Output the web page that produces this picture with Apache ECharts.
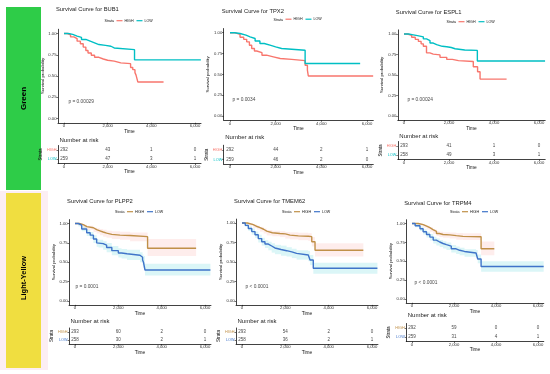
<!DOCTYPE html>
<html><head><meta charset="utf-8">
<script src="https://cdn.jsdelivr.net/npm/echarts@6/dist/echarts.min.js"></script>
<style>html,body{margin:0;padding:0;background:#fff}#c{width:550px;height:374px}</style>
</head><body><div id="c"></div>
<script>
// ---------------- DATA ----------------
const genes = ['BUB1','TPX2','ESPL1','PLPP2','TMEM62','TRPM4'];
const pTexts = ['p = 0.00029','p = 0.0034','p = 0.00024','p = 0.0001','p < 0.0001','p < 0.0001'];
const strata = ['HIGH','LOW'];
const xTicks = [0,2000,4000,6000];
const yTicks = [0,0.25,0.5,0.75,1];
const riskTimes = [0,2000,4000,6000];
const riskHigh = [[292,43,1,0],[292,44,2,1],[293,41,1,0],[293,60,2,0],[293,54,2,0],[292,59,0,0]];
const riskLow  = [[259,47,3,1],[259,46,2,0],[258,49,3,1],[258,30,2,1],[258,36,2,1],[259,31,4,1]];

const bub1HighT = [0,150,300,450,600,750,880,1000,1100,1250,1400,1600,1800,2000,2300,2600,3050,3150,3250,3300,3380,4560];
const bub1HighS = [1,0.985,0.96,0.94,0.91,0.88,0.84,0.80,0.77,0.745,0.72,0.70,0.685,0.675,0.655,0.645,0.60,0.575,0.54,0.51,0.43,0.43];
const bub1LowT  = [0,200,400,600,800,1000,1200,1400,1600,1900,2150,2300,3230,6270];
const bub1LowS  = [1,0.99,0.97,0.955,0.93,0.91,0.89,0.87,0.86,0.85,0.83,0.81,0.69,0.69];

const tpx2HighT = [0,200,440,600,730,850,950,1070,1170,1400,1600,1900,2200,2700,3290,3390,3430,6270];
const tpx2HighS = [1,0.98,0.945,0.92,0.89,0.85,0.81,0.78,0.76,0.73,0.71,0.69,0.68,0.665,0.61,0.55,0.48,0.48];
const tpx2LowT  = [0,200,440,700,880,1100,1310,1500,1750,2000,2260,3290,5700];
const tpx2LowS  = [1,0.99,0.97,0.95,0.93,0.90,0.87,0.85,0.83,0.81,0.79,0.63,0.63];

const espl1HighT = [0,150,340,500,640,760,860,1000,1150,1300,1600,1900,2150,2420,3080,3270,3380,4560];
const espl1HighS = [1,0.985,0.96,0.935,0.91,0.88,0.85,0.77,0.755,0.745,0.715,0.69,0.675,0.665,0.60,0.54,0.45,0.45];
const espl1LowT  = [0,200,415,600,860,1000,1155,1300,1450,1700,1900,2100,2270,2700,3260,6270];
const espl1LowS  = [1,0.99,0.98,0.965,0.94,0.92,0.89,0.87,0.85,0.845,0.835,0.82,0.805,0.80,0.67,0.67];

const plpp2HighT  = [0,200,380,550,850,1000,1150,1300,1460,1700,2080,2540,3350,5590];
const plpp2HighS  = [1,0.985,0.96,0.945,0.92,0.905,0.89,0.875,0.86,0.85,0.845,0.83,0.68,0.68];
const plpp2HighLo = [1,0.97,0.94,0.92,0.89,0.87,0.85,0.83,0.815,0.80,0.79,0.77,0.58,0.58];
const plpp2HighHi = [1,1,0.985,0.97,0.95,0.94,0.93,0.92,0.905,0.90,0.895,0.885,0.80,0.80];
const plpp2LowT   = [0,150,310,540,700,850,1000,1080,1300,1460,1700,2000,2150,2400,3000,3120,3160,3230,6250];
const plpp2LowS   = [1,0.98,0.93,0.88,0.85,0.80,0.75,0.74,0.72,0.69,0.65,0.62,0.61,0.59,0.565,0.53,0.50,0.40,0.40];
const plpp2LowLo  = [1,0.96,0.90,0.84,0.80,0.75,0.70,0.69,0.66,0.63,0.59,0.56,0.55,0.53,0.50,0.46,0.43,0.33,0.33];
const plpp2LowHi  = [1,1,0.96,0.92,0.89,0.85,0.80,0.79,0.77,0.75,0.71,0.68,0.67,0.66,0.63,0.60,0.58,0.48,0.48];

const tmem62HighT  = [0,250,520,700,830,1000,1140,1400,1750,2000,2220,2600,3060,3220,3370,5600];
const tmem62HighS  = [1,0.98,0.955,0.94,0.92,0.895,0.875,0.865,0.86,0.845,0.835,0.83,0.825,0.76,0.65,0.65];
const tmem62HighLo = [1,0.965,0.935,0.915,0.89,0.865,0.84,0.83,0.82,0.80,0.79,0.78,0.77,0.70,0.57,0.57];
const tmem62HighHi = [1,1,0.98,0.965,0.95,0.93,0.91,0.90,0.895,0.885,0.88,0.875,0.87,0.82,0.74,0.74];
const tmem62LowT   = [0,150,290,450,600,750,910,1060,1215,1370,1520,1800,2060,2300,2520,3060,3140,3290,6250];
const tmem62LowS   = [1,0.97,0.93,0.89,0.85,0.80,0.76,0.73,0.705,0.68,0.66,0.645,0.63,0.61,0.59,0.577,0.525,0.42,0.42];
const tmem62LowLo  = [1,0.95,0.90,0.85,0.81,0.75,0.71,0.68,0.65,0.62,0.60,0.58,0.57,0.55,0.53,0.51,0.46,0.35,0.35];
const tmem62LowHi  = [1,0.99,0.96,0.93,0.89,0.85,0.81,0.78,0.76,0.74,0.72,0.71,0.69,0.67,0.65,0.64,0.59,0.49,0.49];

const trpm4HighT  = [0,300,535,700,850,1000,1165,1300,1480,1800,2110,2425,3290,3920];
const trpm4HighS  = [1,0.985,0.965,0.945,0.92,0.895,0.867,0.855,0.85,0.84,0.83,0.825,0.665,0.665];
const trpm4HighLo = [1,0.97,0.945,0.92,0.89,0.865,0.835,0.82,0.81,0.80,0.785,0.78,0.58,0.58];
const trpm4HighHi = [1,1,0.985,0.97,0.95,0.925,0.90,0.89,0.885,0.88,0.875,0.87,0.76,0.76];
const trpm4LowT   = [0,150,380,530,690,850,1010,1160,1320,1480,1640,1870,2100,2270,2500,3050,3130,3290,6270];
const trpm4LowS   = [1,0.97,0.93,0.89,0.855,0.82,0.78,0.755,0.735,0.72,0.70,0.665,0.645,0.63,0.61,0.60,0.53,0.43,0.43];
const trpm4LowLo  = [1,0.95,0.90,0.855,0.815,0.775,0.735,0.71,0.69,0.67,0.65,0.615,0.595,0.58,0.56,0.545,0.475,0.36,0.36];
const trpm4LowHi  = [1,0.99,0.96,0.925,0.89,0.86,0.825,0.80,0.78,0.765,0.75,0.715,0.695,0.68,0.66,0.65,0.59,0.50,0.50];

const curves = [
  {high:[bub1HighT,bub1HighS], low:[bub1LowT,bub1LowS]},
  {high:[tpx2HighT,tpx2HighS], low:[tpx2LowT,tpx2LowS]},
  {high:[espl1HighT,espl1HighS], low:[espl1LowT,espl1LowS]},
  {high:[plpp2HighT,plpp2HighS,plpp2HighLo,plpp2HighHi], low:[plpp2LowT,plpp2LowS,plpp2LowLo,plpp2LowHi]},
  {high:[tmem62HighT,tmem62HighS,tmem62HighLo,tmem62HighHi], low:[tmem62LowT,tmem62LowS,tmem62LowLo,tmem62LowHi]},
  {high:[trpm4HighT,trpm4HighS,trpm4HighLo,trpm4HighHi], low:[trpm4LowT,trpm4LowS,trpm4LowLo,trpm4LowHi]}
];

// ---------------- LAYOUT / STYLE ----------------
const FONT = '"Liberation Sans", Arial, Helvetica, sans-serif';
const layout = [
  {x0:64,  x6:195, y1:33.5,  y0:118.5, rH:150, rL:159,   titleY:10,  narY:141, legY:21,   pPos:[180,0.2]},
  {x0:230, x6:367, y1:32.7,  y0:116,   rH:150, rL:159.5, titleY:12,  narY:138, legY:19.5, pPos:[90,0.2]},
  {x0:404, x6:539, y1:34,    y0:116,   rH:146, rL:155,   titleY:13,  narY:137, legY:22,   pPos:[130,0.2]},
  {x0:75,  x6:205, y1:223.5, y0:301,   rH:332, rL:340,   titleY:202, narY:322, legY:212,  pPos:[0,0.19]},
  {x0:242, x6:372, y1:223,   y0:301,   rH:332, rL:340,   titleY:202, narY:322, legY:212,  pPos:[140,0.18]},
  {x0:412, x6:538, y1:223.5, y0:299,   rH:328, rL:337,   titleY:204, narY:316, legY:212,  pPos:[100,0.21]}
];
const rowColors = [
  {HIGH:'#F8766D', LOW:'#00BFC4'},
  {HIGH:'#C09048', LOW:'#3F74C9'}
];
const bandColors = {HIGH:'rgba(248,118,109,0.13)', LOW:'rgba(0,191,196,0.14)'};
const XMIN=-275, XMAX=6275, YMIN=-0.05, YMAX=1.05;
const AX = '#111';

const grids=[], xAxes=[], yAxes=[], series=[], titles=[], legends=[], graphics=[];

function bandRender(color){
  return function(params, api){
    const a = api.coord([api.value(0), api.value(3)]);
    const b = api.coord([api.value(1), api.value(2)]);
    return {type:'rect', shape:{x:a[0], y:a[1], width:b[0]-a[0], height:b[1]-a[1]},
      style:{fill:color}};
  };
}

layout.forEach((p,i)=>{
  const row = i<3?0:1;
  const col = rowColors[row];
  const sc=(p.x6-p.x0)/6000;
  const left=p.x0+XMIN*sc, width=(XMAX-XMIN)*sc;
  const ys=p.y0-p.y1;
  const top=p.y1-(YMAX-1)*ys, height=(YMAX-YMIN)*ys;
  const gi=grids.length;
  grids.push({left:left, top:top, width:width, height:height});
  const band=p.rL-p.rH;
  grids.push({left:left, top:p.rH-band/2, width:width, height:band*2});

  const axisLineS = {show:true, onZero:false, lineStyle:{color:AX,width:0.8}};
  const tickS = {show:true, length:1.6, lineStyle:{color:AX,width:0.6}};
  const lblS = {fontSize:4.2, color:'#333', fontFamily:FONT};

  xAxes.push({gridIndex:gi, type:'value', min:XMIN, max:XMAX,
    name:'Time', nameLocation:'middle', nameGap:5.8,
    nameTextStyle:{fontSize:4.8,color:AX,fontFamily:FONT},
    axisLine:axisLineS, axisTick:Object.assign({customValues:xTicks},tickS),
    axisLabel:Object.assign({customValues:xTicks, margin:1.2},lblS), splitLine:{show:false}});
  yAxes.push({gridIndex:gi, type:'value', min:YMIN, max:YMAX,
    name:'Survival probability', nameLocation:'middle', nameGap:11, nameRotate:90,
    nameTextStyle:{fontSize:4.3,color:AX,fontFamily:FONT},
    axisLine:axisLineS, axisTick:Object.assign({customValues:yTicks},tickS),
    axisLabel:Object.assign({customValues:yTicks, margin:1.5, formatter:v=>Number(v).toFixed(2)},lblS),
    splitLine:{show:false}});
  xAxes.push({gridIndex:gi+1, type:'value', min:XMIN, max:XMAX,
    name:'Time', nameLocation:'middle', nameGap:5,
    nameTextStyle:{fontSize:4.8,color:AX,fontFamily:FONT},
    axisLine:axisLineS, axisTick:Object.assign({customValues:xTicks},tickS),
    axisLabel:Object.assign({customValues:xTicks, margin:1},lblS), splitLine:{show:false}});
  yAxes.push({gridIndex:gi+1, type:'category', data:strata, inverse:true,
    name:'Strata', nameLocation:'middle', nameGap:12, nameRotate:90,
    nameTextStyle:{fontSize:4.5,color:AX,fontFamily:FONT},
    axisLine:{show:true,onZero:false,lineStyle:{color:AX,width:0.8}},
    axisTick:{show:true,alignWithLabel:true,length:1.5,lineStyle:{color:AX,width:0.6}},
    axisLabel:{margin:1.5, fontSize:3.8, fontFamily:FONT,
      formatter:v=>'{'+v+'|'+v+'}',
      rich:{HIGH:{color:col.HIGH,fontSize:3.8,fontFamily:FONT}, LOW:{color:col.LOW,fontSize:3.8,fontFamily:FONT}}},
    splitLine:{show:false}});

  // confidence bands (bottom row) as step rectangles
  ['HIGH','LOW'].forEach(k=>{
    const c = curves[i][k==='HIGH'?'high':'low'];
    if (c.length===4){
      const T=c[0], lo=c[2], hi=c[3];
      series.push({type:'custom', name:'band'+i+k, xAxisIndex:gi, yAxisIndex:gi, silent:true, z:1, clip:true,
        renderItem:bandRender(bandColors[k]), encode:{x:[0,1], y:[2,3]},
        data:T.slice(0,-1).map((t,j)=>[t, T[j+1], lo[j], hi[j]])});
    }
  });
  ['HIGH','LOW'].forEach(k=>{
    const c = curves[i][k==='HIGH'?'high':'low'];
    series.push({type:'line', name:k, xAxisIndex:gi, yAxisIndex:gi, step:'end', symbol:'none',
      silent:true, z:3, lineStyle:{color:col[k], width:1.4}, itemStyle:{color:col[k]},
      data:c[0].map((t,j)=>[t,c[1][j]])});
  });
  series.push({type:'scatter', name:'pval'+i, xAxisIndex:gi, yAxisIndex:gi, symbolSize:1, silent:true,
    itemStyle:{color:'rgba(0,0,0,0)'}, data:[p.pPos],
    label:{show:true, position:'right', distance:0, formatter:pTexts[i], fontSize:4.8, color:AX, fontFamily:FONT}});
  const rdata = riskTimes.map((t,j)=>[t,0,riskHigh[i][j]]).concat(riskTimes.map((t,j)=>[t,1,riskLow[i][j]]));
  series.push({type:'scatter', name:'risk'+i, xAxisIndex:gi+1, yAxisIndex:gi+1, symbolSize:1, silent:true,
    itemStyle:{color:'rgba(0,0,0,0)'}, data:rdata,
    label:{show:true, position:'inside', formatter:q=>String(q.value[2]), fontSize:4.5, color:AX, fontFamily:FONT}});

  titles.push({text:'Survival Curve for '+genes[i], left:left-2, top:p.titleY-3.2, padding:0,
    textStyle:{fontSize:5.8, fontWeight:'normal', color:'#222', fontFamily:FONT}});
  titles.push({text:'Number at risk', left:left+1.5, top:p.narY-3.4, padding:0,
    textStyle:{fontSize:6, fontWeight:'normal', color:'#222', fontFamily:FONT}});

  const cx = left+width/2;
  const start = cx-25;
  graphics.push({type:'text', x:start, y:p.legY, silent:true,
    style:{text:'Strata', fontSize:3.6, fill:AX, fontFamily:FONT, align:'left', verticalAlign:'middle'}});
  legends.push({left:start+12, top:p.legY-2.3, padding:0, itemGap:3, itemWidth:6, itemHeight:1.2,
    icon:'rect', selectedMode:false,
    textStyle:{fontSize:3.6, color:AX, fontFamily:FONT, padding:[0,0,0,-3]},
    data:[{name:'HIGH', itemStyle:{color:col.HIGH}}, {name:'LOW', itemStyle:{color:col.LOW}}]});
});

graphics.unshift(
  {type:'rect', shape:{x:0,y:191,width:48,height:179}, style:{fill:'#FCEEF3'}, silent:true},
  {type:'rect', shape:{x:6,y:7,width:35,height:183}, style:{fill:'#2ECC48'}, silent:true},
  {type:'rect', shape:{x:6,y:193,width:35,height:175}, style:{fill:'#F0DE40'}, silent:true},
  {type:'text', x:23.5, y:98.5, rotation:Math.PI/2, silent:true,
    style:{text:'Green', fontSize:8, fontWeight:'bold', fill:'#000', fontFamily:FONT, align:'center', verticalAlign:'middle'}},
  {type:'text', x:23.5, y:278, rotation:Math.PI/2, silent:true,
    style:{text:'Light-Yellow', fontSize:7.5, fontWeight:'bold', fill:'#000', fontFamily:FONT, align:'center', verticalAlign:'middle'}}
);

const chart = echarts.init(document.getElementById('c'), null, {renderer:'canvas', width:550, height:374});
chart.setOption({
  animation:false,
  backgroundColor:'#ffffff',
  title:titles, legend:legends, grid:grids, xAxis:xAxes, yAxis:yAxes, series:series, graphic:graphics
});
</script></body></html>
